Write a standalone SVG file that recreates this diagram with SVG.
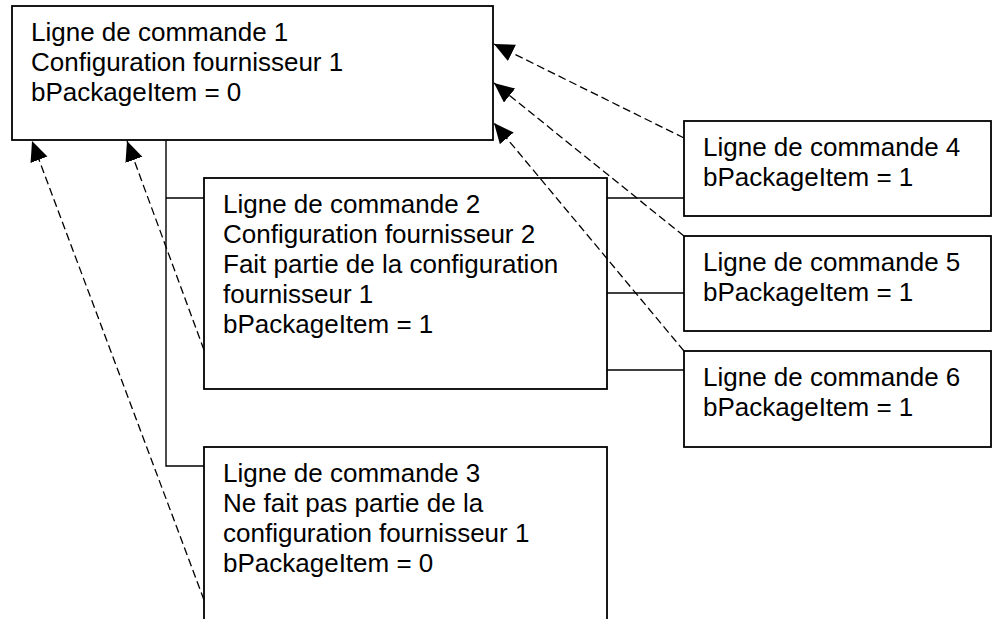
<svg xmlns="http://www.w3.org/2000/svg" width="993" height="619" viewBox="0 0 993 619">
<style>
.box{fill:#fff;stroke:#000;stroke-width:1.8}
.t{font-family:"Liberation Sans",Arial,sans-serif;font-size:26px;fill:#000}
.tree{fill:none;stroke:#000;stroke-width:1.4}
.dash{fill:none;stroke:#000;stroke-width:1.3;stroke-dasharray:8 4;marker-end:url(#ah)}
</style>
<defs>
<marker id="ah" markerUnits="userSpaceOnUse" markerWidth="21" markerHeight="19" refX="20" refY="9" orient="auto">
<path d="M0,0 L20,9 L0,18 Z" fill="#000"/>
</marker>
</defs>
<rect width="993" height="619" fill="#fff"/>
<g id="node1">
<rect class="box" x="12" y="6" width="481" height="134"/>
<text class="t" x="31" y="41">Ligne de commande 1</text>
<text class="t" x="31" y="71">Configuration fournisseur 1</text>
<text class="t" x="31" y="101">bPackageItem = 0</text>
</g>
<g id="node2">
<rect class="box" x="204" y="178" width="403" height="211"/>
<text class="t" x="223" y="213">Ligne de commande 2</text>
<text class="t" x="223" y="243">Configuration fournisseur 2</text>
<text class="t" x="223" y="273">Fait partie de la configuration</text>
<text class="t" x="223" y="303">fournisseur 1</text>
<text class="t" x="223" y="333">bPackageItem = 1</text>
</g>
<g id="node3">
<rect class="box" x="204" y="447" width="403" height="200"/>
<text class="t" x="223" y="482">Ligne de commande 3</text>
<text class="t" x="223" y="512">Ne fait pas partie de la</text>
<text class="t" x="223" y="542">configuration fournisseur 1</text>
<text class="t" x="223" y="572">bPackageItem = 0</text>
</g>
<g id="node4">
<rect class="box" x="684" y="121" width="307" height="95"/>
<text class="t" x="703" y="156">Ligne de commande 4</text>
<text class="t" x="703" y="186">bPackageItem = 1</text>
</g>
<g id="node5">
<rect class="box" x="684" y="236" width="307" height="95"/>
<text class="t" x="703" y="271">Ligne de commande 5</text>
<text class="t" x="703" y="301">bPackageItem = 1</text>
</g>
<g id="node6">
<rect class="box" x="684" y="351" width="307" height="96"/>
<text class="t" x="703" y="386">Ligne de commande 6</text>
<text class="t" x="703" y="416">bPackageItem = 1</text>
</g>
<g id="connectors">
<path class="tree" d="M166,140 V466 H204 M166,198 H204 M607,198 H684 M607,293 H684 M607,370 H684"/>
<path class="dash" d="M684,138 L494,44"/>
<path class="dash" d="M684,236 L494,83"/>
<path class="dash" d="M684,351 L494,123"/>
<path class="dash" d="M204,350 L127,141"/>
<path class="dash" d="M204,600 L32,141"/>
</g>
</svg>
